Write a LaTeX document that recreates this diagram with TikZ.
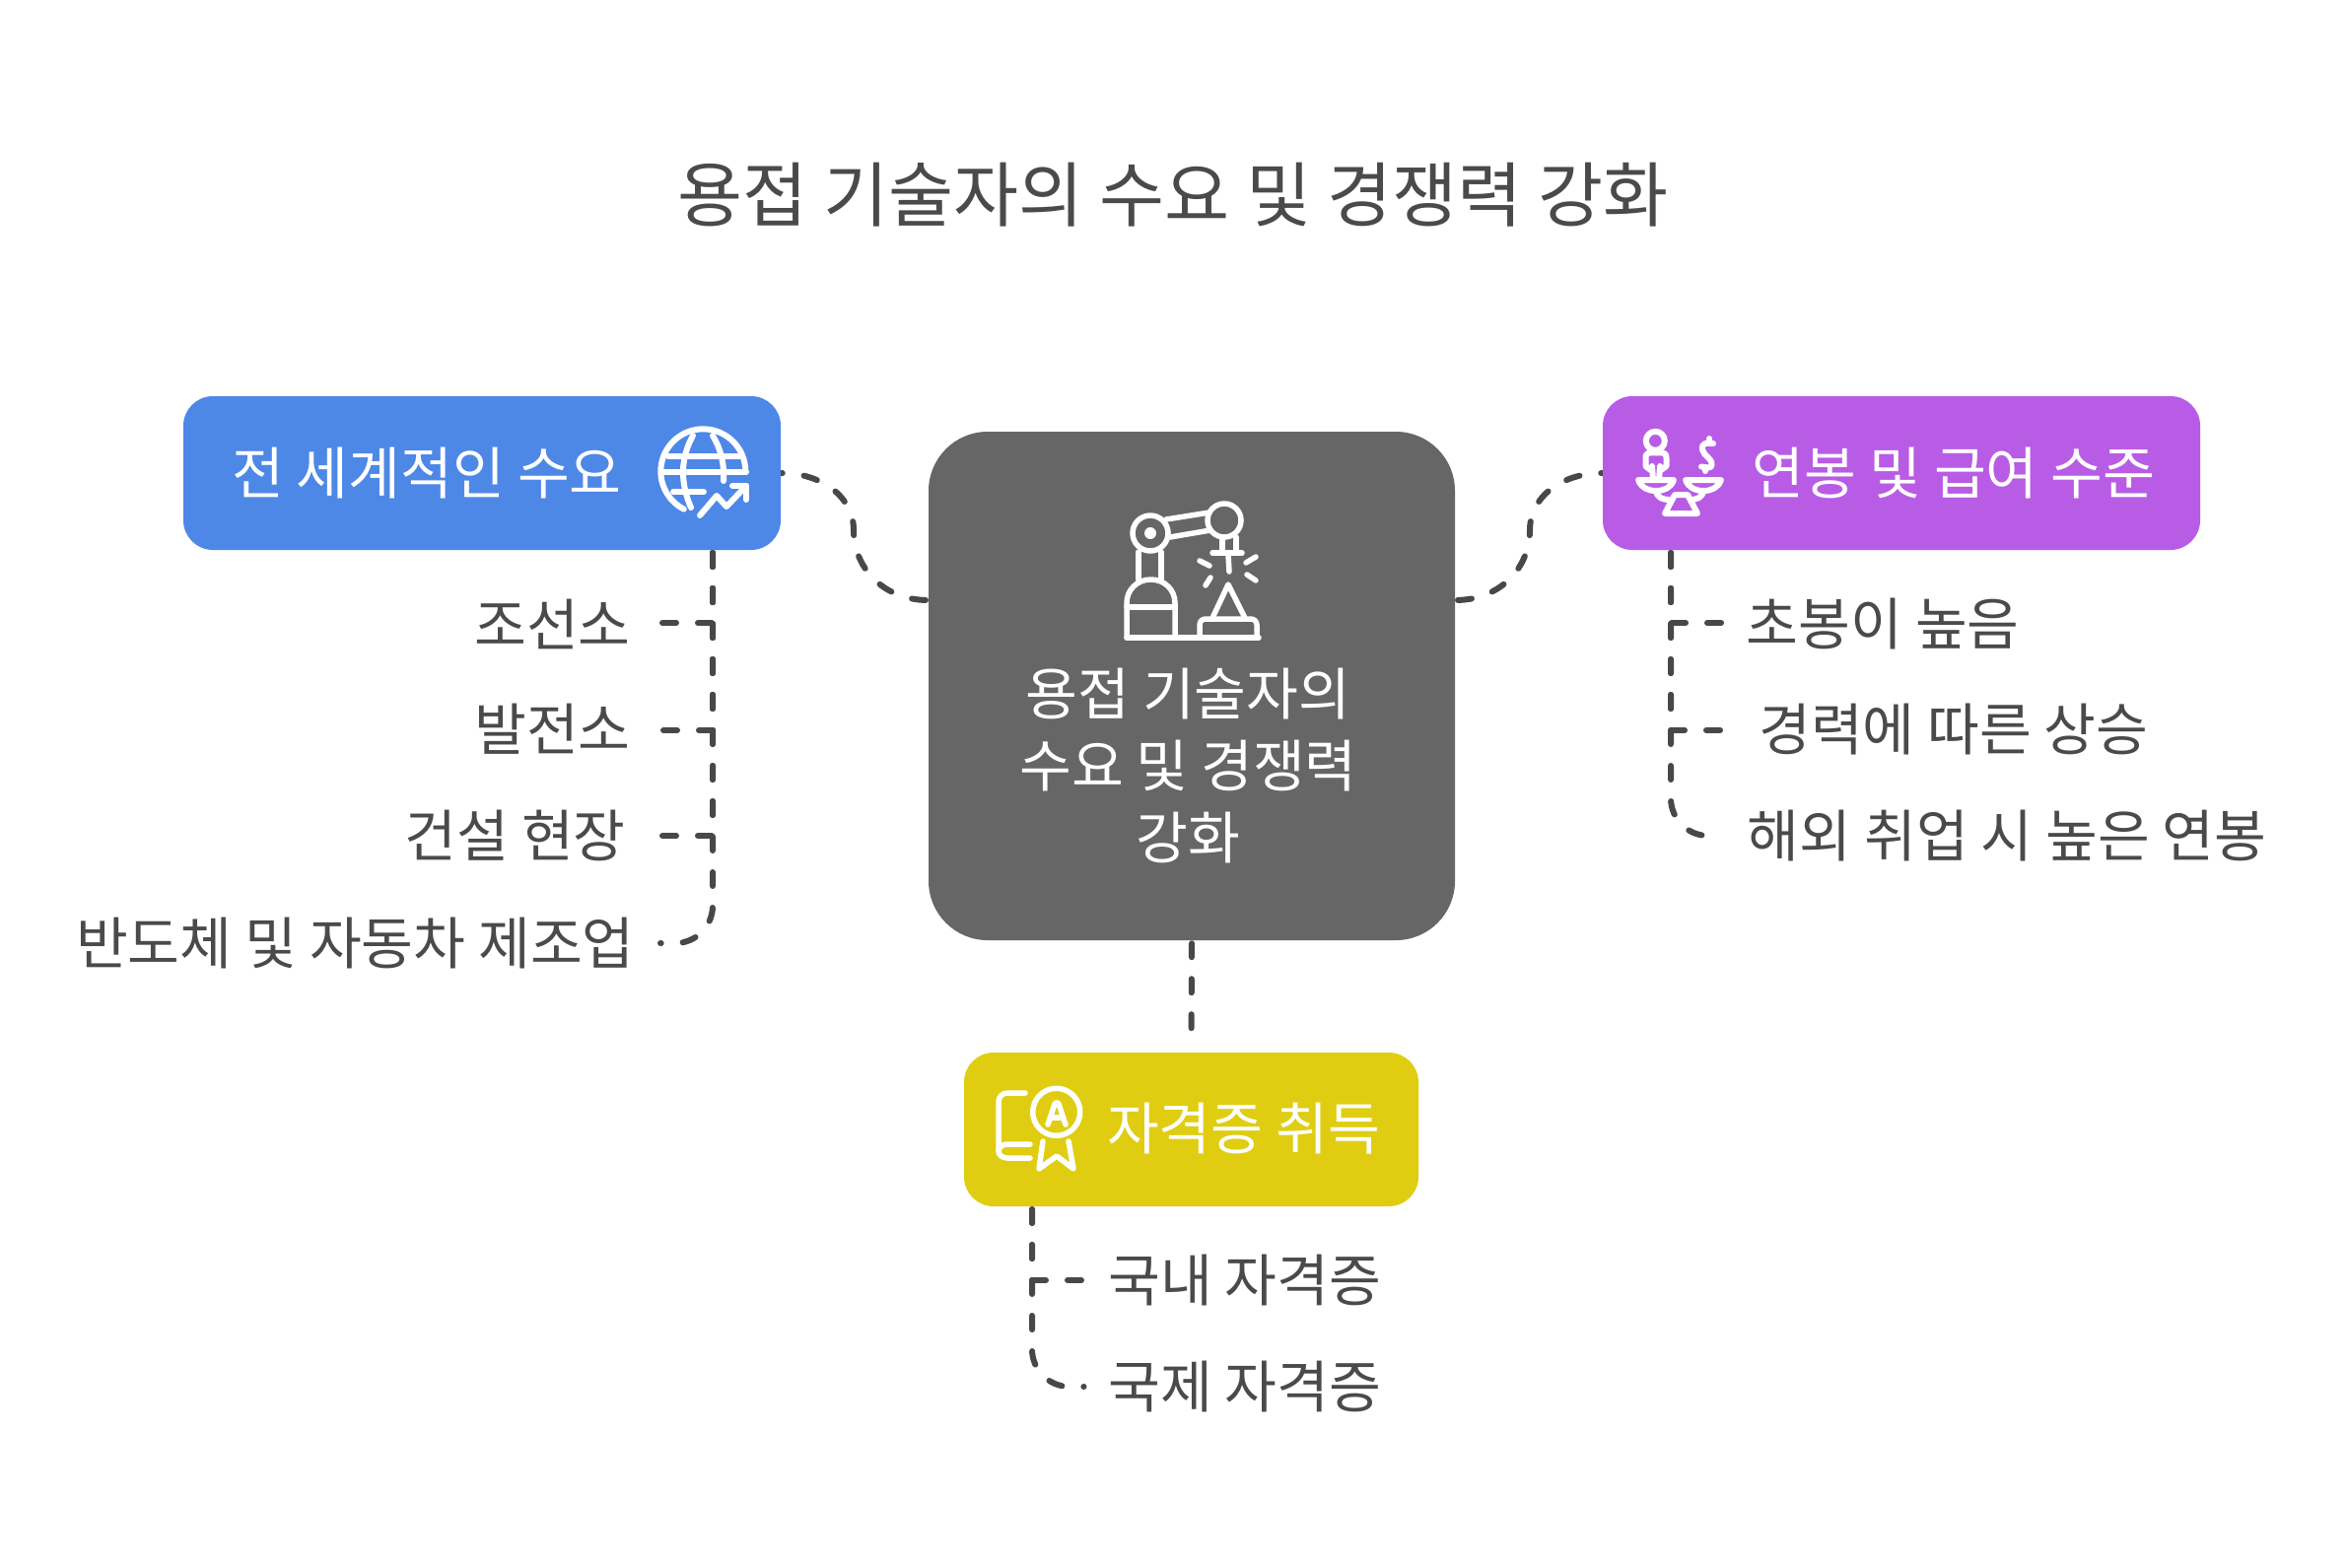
\documentclass[tikz,border=0pt]{standalone}
\usepackage{fontspec}
\usetikzlibrary{backgrounds}
\setmainfont{Noto Sans CJK KR}
\definecolor{cblue}{HTML}{4E88E7}
\definecolor{cpurple}{HTML}{B85CE6}
\definecolor{cyellow}{HTML}{E0CD12}
\definecolor{cgray}{HTML}{666666}
\definecolor{ctext}{HTML}{4A4A4A}
\definecolor{cline}{HTML}{484848}
\tikzset{
  box/.style={rectangle,rounded corners=30pt,inner sep=0pt,minimum height=156pt},
  big/.style={inner sep=0pt,text=white,font=\fontsize{57.4}{73}\selectfont},
  lab/.style={inner sep=0pt,text=ctext,font=\fontsize{57.4}{68}\selectfont},
  conn/.style={draw=cline,line width=6pt,line cap=round,line join=round,dash pattern=on 14pt off 22pt,dash phase=33pt},
  ico/.style={draw=white,line width=5.5pt,line cap=round,line join=round},
}
\begin{document}
\begin{tikzpicture}[x=1pt,y=-1pt]
\useasboundingbox (0,0) rectangle (2382,1590);
% boxes
\node[box,fill=cblue,minimum width=606pt] (blue) at (489,480) {};
\node[box,fill=cpurple,minimum width=606pt] (purple) at (1929,480) {};
\node[box,fill=cyellow,minimum width=461pt] (yellow) at (1208.5,1146) {};
\node[rectangle,rounded corners=60pt,inner sep=0pt,fill=cgray,minimum width=534pt,minimum height=516pt] (center) at (1209,696) {};
% title and box text
\node[inner sep=0pt,text=ctext,font=\fontsize{71.8}{85}\selectfont] (title) at (1190,197.5) {용접 기술자의 수요 및 경쟁력 강화};
\node[big] (tblue) at (433,480) {전 세계적인 수요};
\node[big] (tpurple) at (1982,480) {연봉 및 급여 수준};
\node[big] (tyellow) at (1261.5,1145) {자격증 취득};
\node[big,align=center] (tcenter) at (1205.5,776.5) {용접 기술자의\\수요 및 경쟁력\\강화};
% left labels
\node[lab,anchor=east] (l1) at (640,633) {조선소};
\node[lab,anchor=east] (l2) at (640,740) {발전소};
\node[lab,anchor=east] (l3) at (635,848) {건설 현장};
\node[lab,anchor=east] (l4) at (644,956.5) {반도체 및 자동차 제조업};
% right labels
\node[lab,anchor=west] (r1) at (1771.5,633) {초봉이 높음};
\node[lab,anchor=west] (r2) at (1784,740) {경력에 따른 상승};
\node[lab,anchor=west] (r3) at (1772.5,848) {해외 취업 시 높은 연봉};
% bottom labels
\node[lab,anchor=west] (b1) at (1124,1299) {국내 자격증};
\node[lab,anchor=west] (b2) at (1124,1406.5) {국제 자격증};
% connector ends
\coordinate (lt) at (723,558);
\coordinate (a1) at (670,632);
\coordinate (a2) at (670,741);
\coordinate (a3) at (670,848);
\coordinate (a4) at (670,957);
\coordinate (rt) at (1695,558);
\coordinate (c1) at (1748,632);
\coordinate (c2) at (1748,741);
\coordinate (c3) at (1748,848);
\coordinate (bt) at (1047,1224);
\coordinate (d1) at (1101,1299);
\coordinate (d2) at (1099.5,1407);
\coordinate (cl) at (942,609);
\coordinate (cr) at (1476,609);
\coordinate (el) at (792,480);
\coordinate (er) at (1626,480);
% connectors
\begin{pgfonlayer}{background}
\fill[white] (0,0) rectangle (2382,1590);
\draw[conn] (lt) |- (a1);
\draw[conn] (lt) |- (a2);
\draw[conn] (lt) |- (a3);
\draw[conn] (lt) -- (723,919) .. controls (723,940) and (706,957) .. (685,957) -- (a4);
\draw[conn] (rt) |- (c1);
\draw[conn] (rt) |- (c2);
\draw[conn] (rt) -- (1695,810) .. controls (1695,831) and (1712,848) .. (1733,848) -- (c3);
\draw[conn] (bt) |- (d1);
\draw[conn] (bt) -- (1047,1369) .. controls (1047,1390) and (1064,1407) .. (1085,1407) -- (d2);
\draw[conn] (cl) .. controls (895,609) and (866,575) .. (866,538) .. controls (866,505) and (835,480) .. (el);
\draw[conn] (cr) .. controls (1523,609) and (1552,575) .. (1552,538) .. controls (1552,505) and (1583,480) .. (er);
\draw[conn,shorten >=20pt] (center.south) -- (yellow.north);
\end{pgfonlayer}
% robot icon
\draw[ico] (1143,647) -- (1277,647);
\draw[ico] (1143,647) -- (1143,612) .. controls (1143,598) and (1154,588) .. (1167.5,588) .. controls (1181,588) and (1192,598) .. (1192,612) -- (1192,647);
\draw[ico] (1143,616) -- (1192,616);
\draw[ico] (1155,560) -- (1155,588);
\draw[ico] (1178,560) -- (1178,588);
\draw[ico] (1167,541) circle[radius=18];
\fill[white] (1167,541) circle[radius=6];
\draw[ico] (1242,528) circle[radius=17];
\draw[ico] (1183,527) -- (1227,520);
\draw[ico] (1187,545) -- (1228,538);
\draw[ico] (1240,545) -- (1240,561);
\draw[ico] (1254,545) -- (1254,561);
\draw[ico] (1230,561) -- (1260,561);
\draw[ico] (1246,563) -- (1247,580);
\draw[ico] (1217,569) -- (1227,574);
\draw[ico] (1264,571) -- (1274,565);
\draw[ico] (1223,594) -- (1228,586);
\draw[ico] (1265,583) -- (1274,589);
\draw[ico] (1230,627) -- (1246,593) -- (1263,627);
\draw[ico,rounded corners=6pt] (1217,647) -- (1217,628) -- (1275,628) -- (1275,647);
% globe icon
\begin{scope}[ico/.append style={line width=6pt}]
\draw[ico] (693.8,516.6) .. controls (679.4,509.3) and (670.3,494.5) .. (670.3,478.3) .. controls (670.3,454.6) and (689.6,435.3) .. (713.3,435.3) .. controls (737,435.3) and (756.3,454.6) .. (756.3,478.3);
\draw[ico] (678,463.3) -- (750,463.3);
\draw[ico] (672,479) -- (757,479);
\draw[ico] (683,499) -- (714,499);
\draw[ico] (703,442) .. controls (690,465) and (690,490) .. (701,515);
\draw[ico] (723,442) .. controls (731,455) and (735,470) .. (734,488);
\draw[ico] (710,523) -- (727,503) -- (737,514) -- (757,493);
\draw[ico] (743,493) -- (757,493) -- (757,507);
\end{scope}
% scales icon
\begin{scope}[ico/.append style={line width=6pt}]
\draw[ico] (1679.3,447.3) circle[radius=9.5];
\draw[ico] (1674.5,477) -- (1669.5,473) -- (1669.5,465) .. controls (1669.5,458) and (1674,459.5) .. (1680,459.5) .. controls (1686,459.5) and (1690.5,458) .. (1690.5,465) -- (1690.5,473) -- (1685,477);
\draw[ico] (1676,473) -- (1677,487);
\draw[ico] (1684,473) -- (1683,487);
\draw[ico] (1738,450) .. controls (1732,449) and (1726,449) .. (1727,456) .. controls (1728,463) and (1737,464) .. (1736.5,472) .. controls (1736,476) and (1731,474) .. (1726,473.5);
\draw[ico] (1734,445) -- (1734,450);
\draw[ico] (1730,474) -- (1730,478);
\draw[ico] (1662,487) -- (1698,487) .. controls (1695,495) and (1688,498) .. (1680,498) .. controls (1672,498) and (1665,495) .. (1662,487) -- cycle;
\draw[ico] (1710,487) -- (1746,487) .. controls (1743,495) and (1736,498) .. (1728,498) .. controls (1720,498) and (1713,495) .. (1710,487) -- cycle;
\draw[ico] (1680,498) .. controls (1681,505) and (1687,507) .. (1693,507);
\draw[ico] (1728,498) .. controls (1727,505) and (1721,507) .. (1715,507);
\draw[ico] (1699,502) -- (1712,502) -- (1722,521) -- (1689,521) -- cycle;
\end{scope}
% certificate icon
\draw[ico] (1040,1109) -- (1022,1109) .. controls (1017,1109) and (1013,1113) .. (1013,1118) -- (1013,1168) .. controls (1013,1172) and (1017,1175) .. (1022,1175) -- (1045,1175);
\draw[ico] (1045,1161) -- (1022,1161) .. controls (1017,1161) and (1013,1164) .. (1013,1168);
\draw[ico] (1071.7,1128.3) circle[radius=24];
\draw[ico] (1063,1141) -- (1070,1120) .. controls (1071,1118) and (1073,1118) .. (1074,1120) -- (1081,1141);
\draw[ico] (1066,1134) -- (1077,1134);
\draw[ico] (1058,1158) -- (1054,1186) -- (1072,1173) -- (1089,1186) -- (1084,1158);
\end{tikzpicture}
\end{document}
